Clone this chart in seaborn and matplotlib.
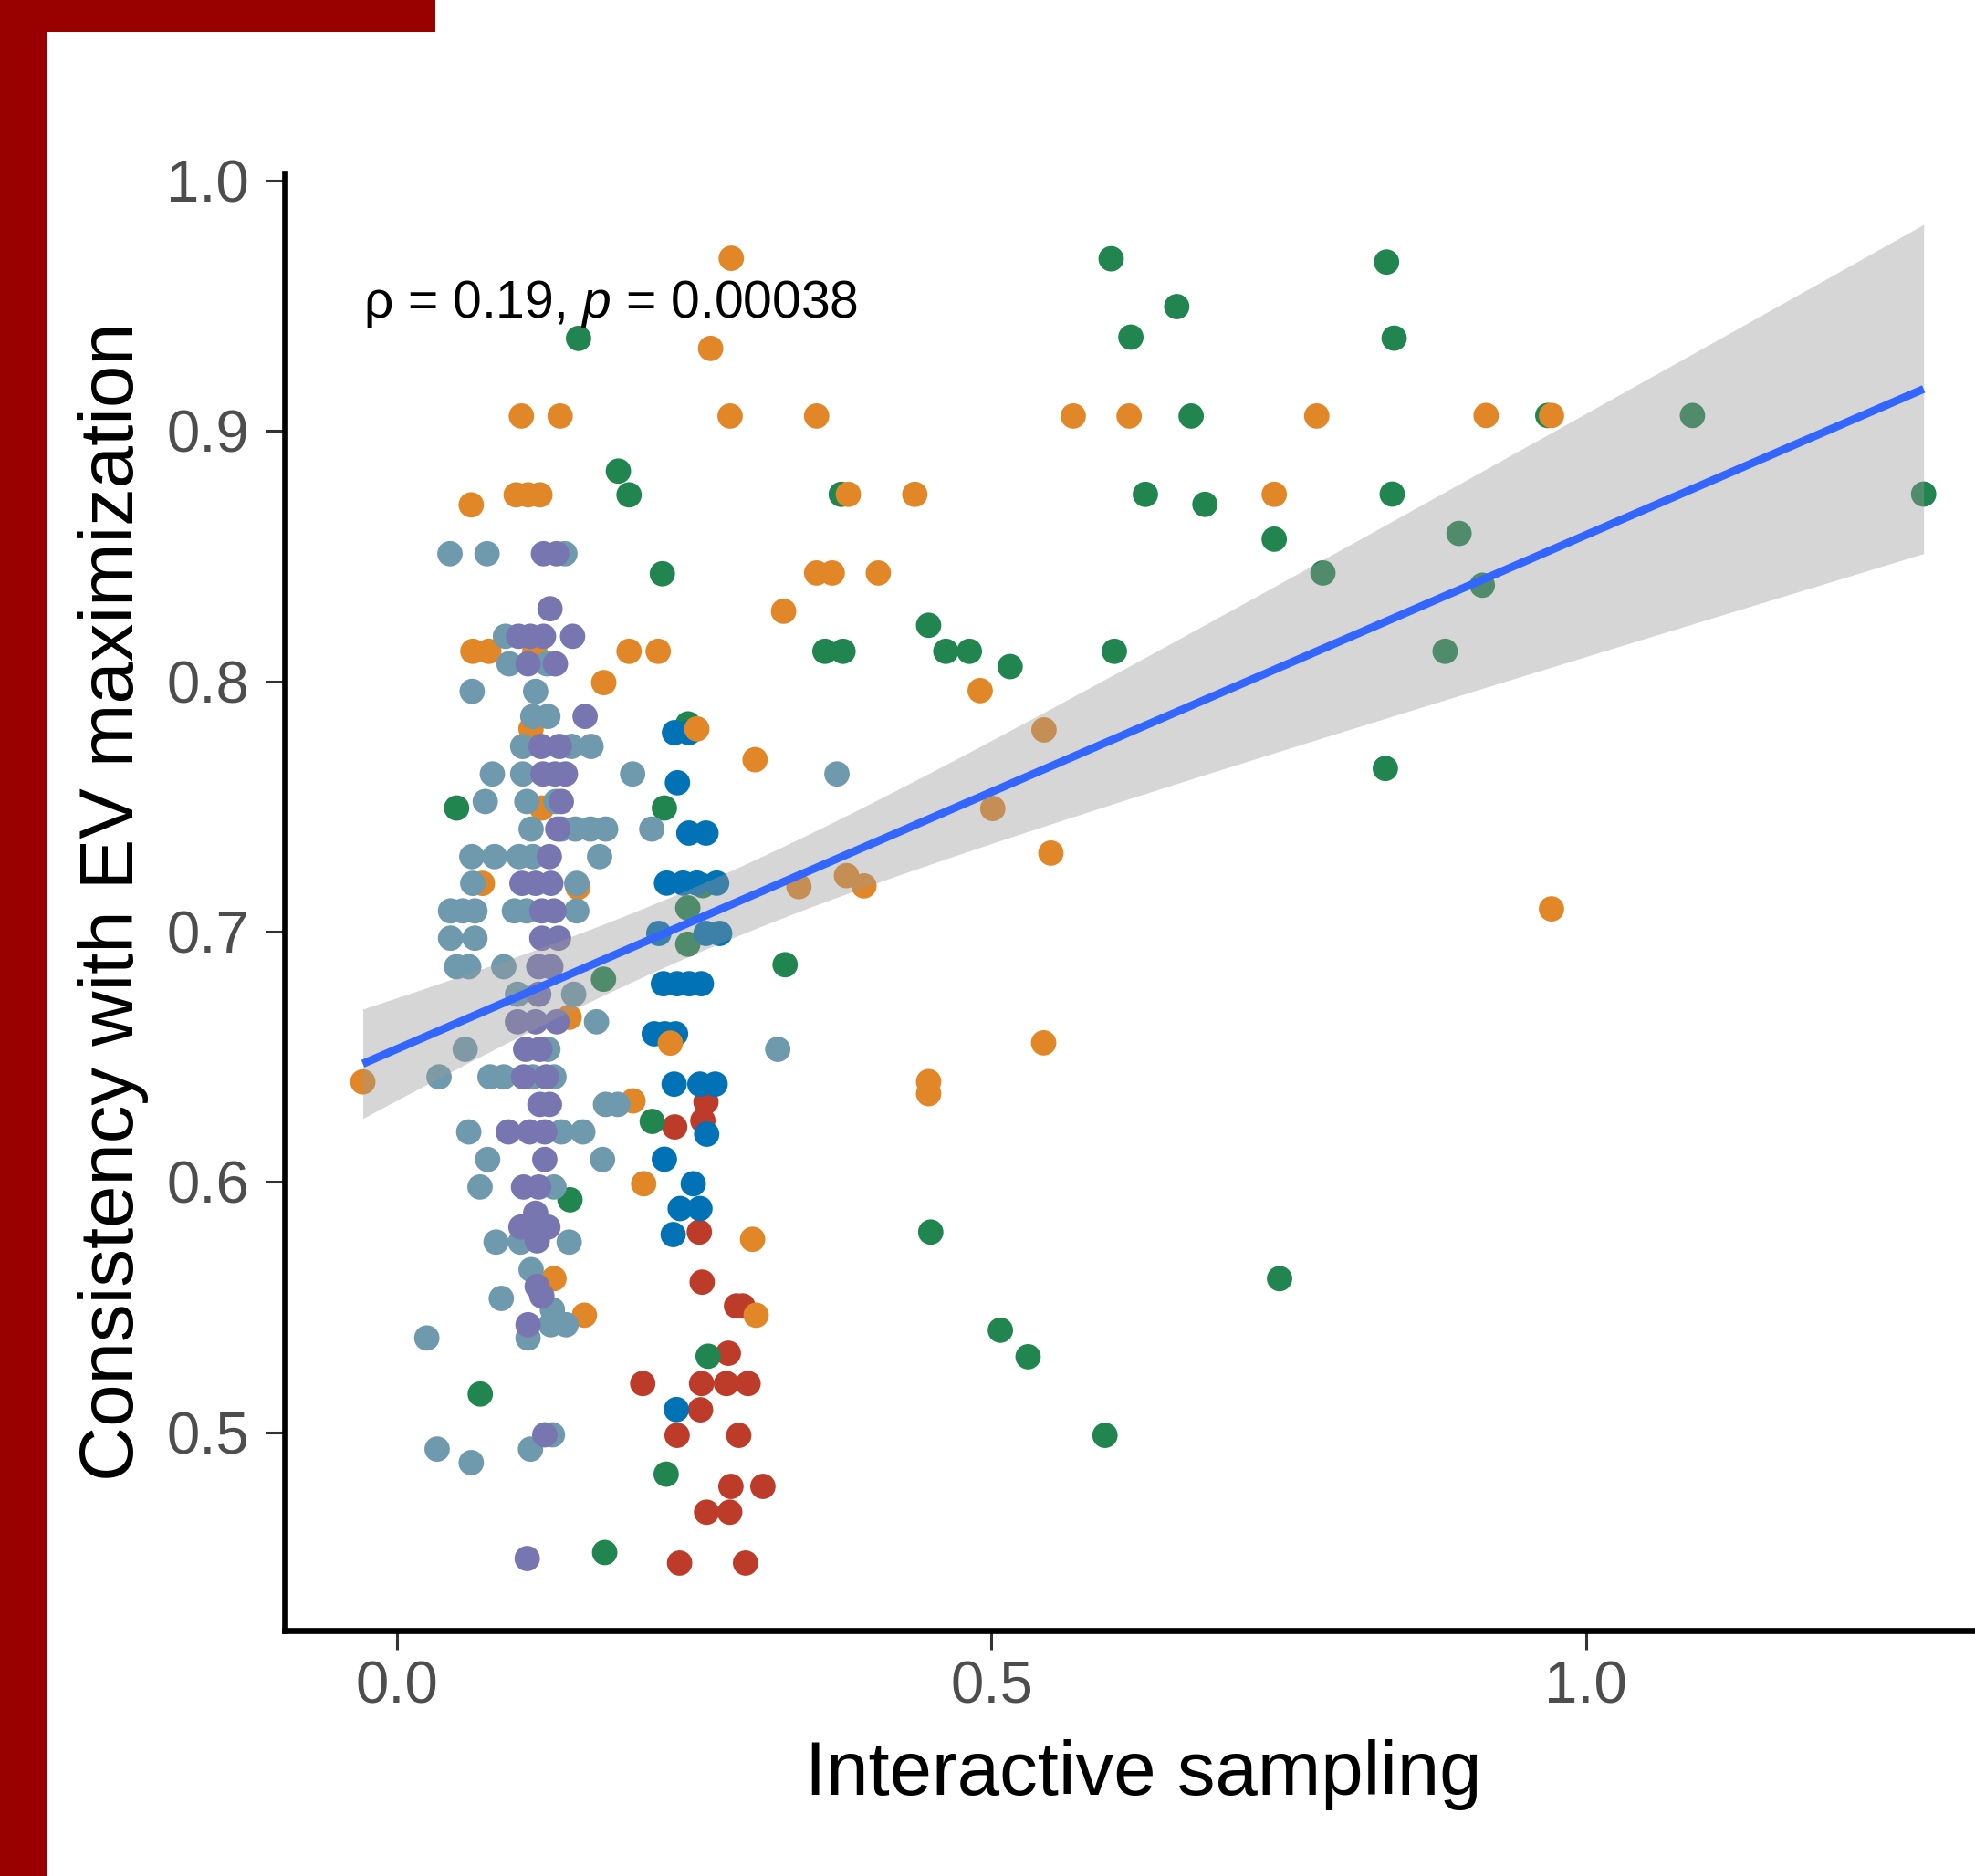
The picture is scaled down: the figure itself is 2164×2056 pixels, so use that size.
import numpy as np
import pandas as pd
import matplotlib
matplotlib.use("Agg")
import matplotlib.pyplot as plt
from matplotlib.patches import Rectangle
import seaborn as sns

# ---------------- data ----------------
red_x = [0.2597, 0.2571, 0.2334, 0.2541, 0.2565, 0.2854, 0.2906, 0.2785, 0.2065, 0.2560, 0.2769,
         0.2951, 0.2551, 0.2354, 0.2873, 0.2807, 0.3076, 0.2602, 0.2797, 0.2375, 0.2930]
red_y = [0.632, 0.6245, 0.622, 0.580, 0.560, 0.5505, 0.5505, 0.5316, 0.5195, 0.5195, 0.5195,
         0.5195, 0.509, 0.4988, 0.4988, 0.4784, 0.4784, 0.4681, 0.4681, 0.4478, 0.4478]

green_x = [0.1525, 0.186, 0.195, 0.223, 0.0499, 0.2247, 0.2446, 0.257, 0.2444, 0.2444, 0.1735,
           0.3263, 0.2145, 0.1453, 0.2615, 0.0698, 0.2262, 0.1745, 0.6006, 0.6558, 0.6172, 0.6679,
           0.3735, 0.6294, 0.6795, 0.7378, 0.7788, 0.447, 0.3598, 0.375, 0.4615, 0.4813, 0.5156,
           0.6033, 0.4488, 0.7423, 0.5074, 0.5307, 0.5954, 0.8323, 0.8387, 0.968, 1.0897, 0.8371,
           0.8933, 0.9129, 0.8816, 1.2842, 0.8313]
green_y = [0.937, 0.884, 0.8745, 0.843, 0.7494, 0.7494, 0.783, 0.7184, 0.7095, 0.695, 0.681,
           0.6868, 0.6242, 0.5929, 0.5304, 0.5153, 0.4833, 0.452, 0.9688, 0.9497, 0.9375, 0.906,
           0.8747, 0.8747, 0.8707, 0.8568, 0.8433, 0.8224, 0.812, 0.812, 0.812, 0.812, 0.8059,
           0.812, 0.58, 0.5614, 0.5408, 0.5302, 0.4988, 0.9675, 0.9371, 0.9062, 0.9062, 0.8748,
           0.8591, 0.8384, 0.812, 0.8748, 0.7652]

blue_x = [0.2332, 0.2453, 0.2357, 0.2453, 0.2597, 0.2265, 0.2405, 0.2520, 0.2687, 0.2200, 0.2597,
          0.2712, 0.2239, 0.2354, 0.2456, 0.2558, 0.2162, 0.2250, 0.2341, 0.2329, 0.2546, 0.2674,
          0.2603, 0.2247, 0.2490, 0.2380, 0.2546, 0.2321, 0.2348]
blue_y = [0.7795, 0.7795, 0.7595, 0.7394, 0.7394, 0.7194, 0.7194, 0.7194, 0.7194, 0.6993, 0.6993,
          0.6993, 0.6792, 0.6792, 0.6792, 0.6792, 0.6592, 0.6592, 0.6592, 0.6391, 0.6391, 0.6391,
          0.6191, 0.6091, 0.5993, 0.5894, 0.5894, 0.579, 0.5091]

orange_x = [0.281, 0.2636, 0.1044, 0.137, 0.280, 0.3528, 0.0622, 0.100, 0.110, 0.120,
            0.325, 0.0636, 0.077, 0.1157, 0.195, 0.2195, 0.1737, 0.1125, 0.252, 0.301,
            0.1216, 0.0716, 0.152, 0.3379, 0.3779, 0.3926, 0.1446, 0.2297, -0.029, 0.1983,
            0.2073, 0.2989, 0.1318, 0.3019, 0.1574, 0.5687, 0.6157, 0.7736, 0.3795, 0.4354,
            0.7378, 0.3528, 0.3659, 0.4047, 0.4904, 0.5441, 0.501, 0.5499, 0.5438, 0.447,
            0.447, 0.9161, 0.9711, 0.9711]
orange_y = [0.969, 0.933, 0.906, 0.906, 0.906, 0.906, 0.8705, 0.8745, 0.8745, 0.8745,
            0.828, 0.812, 0.812, 0.812, 0.812, 0.812, 0.7995, 0.781, 0.781, 0.7687,
            0.7494, 0.7193, 0.7177, 0.718, 0.7224, 0.7183, 0.6658, 0.6555, 0.640, 0.6324,
            0.5993, 0.5771, 0.5614, 0.5468, 0.5468, 0.906, 0.906, 0.906, 0.8747, 0.8747,
            0.8747, 0.8433, 0.8433, 0.8433, 0.7963, 0.7806, 0.7492, 0.7314, 0.6556, 0.6401,
            0.6353, 0.9062, 0.9062, 0.7091]

teal_x = [0.0443, 0.0755, 0.141, 0.091, 0.094, 0.126, 0.063, 0.1164, 0.114, 0.1267,
          0.1055, 0.1465, 0.163, 0.080, 0.1055, 0.198, 0.3699, 0.074, 0.109, 0.1335,
          0.1126, 0.138, 0.1497, 0.1625, 0.1753, 0.2141, 0.0627, 0.0819, 0.1024, 0.114,
          0.1702, 0.0635, 0.151, 0.0448, 0.055, 0.0653, 0.0985, 0.1088, 0.151, 0.0448,
          0.0653, 0.0499, 0.0601, 0.0896, 0.1011, 0.1484, 0.1676, 0.0571, 0.1267, 0.3201,
          0.0351, 0.078, 0.0896, 0.114, 0.1318, 0.1752, 0.1855, 0.0601, 0.138, 0.1561,
          0.076, 0.1727, 0.0696, 0.1318, 0.0831, 0.1036, 0.1446, 0.1126, 0.0875, 0.1305,
          0.1292, 0.142, 0.110, 0.0248, 0.1305, 0.1121, 0.0335, 0.0622]
teal_y = [0.851, 0.851, 0.851, 0.818, 0.807, 0.807, 0.796, 0.796, 0.786, 0.786,
          0.774, 0.774, 0.774, 0.763, 0.763, 0.763, 0.763, 0.752, 0.752, 0.752,
          0.741, 0.741, 0.741, 0.741, 0.741, 0.741, 0.730, 0.730, 0.730, 0.730,
          0.730, 0.7193, 0.7193, 0.7083, 0.7083, 0.7083, 0.7083, 0.7083, 0.7083, 0.6974,
          0.6974, 0.686, 0.686, 0.686, 0.675, 0.675, 0.664, 0.653, 0.653, 0.653,
          0.642, 0.642, 0.642, 0.642, 0.642, 0.631, 0.631, 0.620, 0.620, 0.620,
          0.609, 0.609, 0.598, 0.598, 0.576, 0.576, 0.576, 0.565, 0.5535, 0.549,
          0.543, 0.543, 0.5377, 0.5377, 0.499, 0.4933, 0.4933, 0.4879]

purple_x = [0.123, 0.134, 0.1285, 0.102, 0.112, 0.123, 0.1475, 0.11, 0.133, 0.158,
            0.1209, 0.1364, 0.1225, 0.1328, 0.1414, 0.138, 0.135, 0.1279, 0.1049, 0.1164,
            0.1292, 0.1216, 0.1318, 0.1216, 0.1356, 0.119, 0.1292, 0.119, 0.1011, 0.1164,
            0.1343, 0.108, 0.12, 0.1062, 0.1254, 0.120, 0.128, 0.0934, 0.1113, 0.1241,
            0.1241, 0.1062, 0.119, 0.1164, 0.104, 0.1164, 0.1267, 0.1177, 0.1177, 0.1216,
            0.110, 0.1241, 0.1093]
purple_y = [0.851, 0.851, 0.829, 0.818, 0.818, 0.818, 0.818, 0.807, 0.807, 0.786,
            0.774, 0.774, 0.763, 0.763, 0.763, 0.752, 0.741, 0.730, 0.7193, 0.7193,
            0.7193, 0.7083, 0.7083, 0.6974, 0.6974, 0.686, 0.686, 0.675, 0.664, 0.664,
            0.664, 0.653, 0.653, 0.642, 0.642, 0.631, 0.631, 0.620, 0.620, 0.620,
            0.609, 0.598, 0.598, 0.5875, 0.582, 0.582, 0.582, 0.5765, 0.5583, 0.5545,
            0.543, 0.499, 0.4496]

groups = ["G1", "G2", "G3", "G4", "G5", "G6"]      # drawing order
group_colors = ["#BC3C29", "#20854E", "#0072B5", "#E18727", "#6F99AD", "#7876B1"]

x_ticks = [0.0, 0.5, 1.0]
x_tick_labels = ["0.0", "0.5", "1.0"]
y_ticks = [0.5, 0.6, 0.7, 0.8, 0.9, 1.0]
y_tick_labels = ["0.5", "0.6", "0.7", "0.8", "0.9", "1.0"]

x_title = "Interactive sampling"
y_title = "Consistency with EV maximization"
stat_label = r"ρ = 0.19, $\mathit{p}$ = 0.00038"

# ---------------- build table ----------------
xs = [red_x, green_x, blue_x, orange_x, teal_x, purple_x]
ys = [red_y, green_y, blue_y, orange_y, teal_y, purple_y]
frames = [pd.DataFrame({"x": gx, "y": gy, "group": g}) for g, gx, gy in zip(groups, xs, ys)]
df = pd.concat(frames, ignore_index=True)

# ---------------- style ----------------
sns.set_theme(style="ticks")
plt.rcParams['font.family'] = ['Liberation Sans', 'DejaVu Sans']
plt.rcParams['mathtext.fontset'] = 'custom'
plt.rcParams['mathtext.rm'] = 'Liberation Sans'
plt.rcParams['mathtext.it'] = 'Liberation Sans:italic'

W, H = 2164, 2056
fig = plt.figure(figsize=(W / 100, H / 100), dpi=100)
fig.patch.set_facecolor("white")

# axes placement (pixel geometry of the panel)
left_px, right_px, top_px, bottom_px = 312, 2193.4, 189.8, 1786.5
ax = fig.add_axes([left_px / W, (H - bottom_px) / H, (right_px - left_px) / W, (bottom_px - top_px) / H])

# decorative red frame pieces
fig.patches.append(Rectangle((0, 0), 51 / W, 1, transform=fig.transFigure,
                             facecolor="#990000", edgecolor="none", zorder=10))
fig.patches.append(Rectangle((0, 1 - 34.5 / H), 477 / W, 34.5 / H, transform=fig.transFigure,
                             facecolor="#990000", edgecolor="none", zorder=10))

# points
sns.scatterplot(data=df, x="x", y="y", hue="group", hue_order=groups,
                palette=dict(zip(groups, group_colors)), s=400, linewidth=0,
                legend=False, ax=ax, zorder=2)

# linear fit with 95% confidence band (t-based, as in geom_smooth)
xv = df["x"].to_numpy()
yv = df["y"].to_numpy()
n = len(xv)
b1, b0 = np.polyfit(xv, yv, 1)
resid = yv - (b0 + b1 * xv)
s_err = np.sqrt(np.sum(resid ** 2) / (n - 2))
xm = xv.mean()
sxx = np.sum((xv - xm) ** 2)
grid = np.linspace(xv.min(), xv.max(), 100)
fit = b0 + b1 * grid
se = s_err * np.sqrt(1.0 / n + (grid - xm) ** 2 / sxx)
tval = 1.967
ax.fill_between(grid, fit - tval * se, fit + tval * se, color="#999999", alpha=0.4,
                linewidth=0, zorder=3)
sns.regplot(data=df, x="x", y="y", scatter=False, ci=None, truncate=True,
            line_kws=dict(color="#3366FF", lw=6.3, zorder=4, solid_capstyle="butt"), ax=ax)

# annotation
ax.text(xv.min(), 0.9452, stat_label, fontsize=41, ha="left", va="baseline", color="black", zorder=5)

# axes cosmetics
ax.set_xlim(-0.0947, 1.35)
ax.set_ylim(0.421, 1.003)
ax.set_xticks(x_ticks)
ax.set_xticklabels(x_tick_labels)
ax.set_yticks(y_ticks)
ax.set_yticklabels(y_tick_labels)
for side in ["top", "right"]:
    ax.spines[side].set_visible(False)
for side in ["left", "bottom"]:
    ax.spines[side].set_linewidth(4.8)
    ax.spines[side].set_color("black")
ax.tick_params(axis="both", length=15, width=2.2, color="#333333",
               labelsize=47, labelcolor="#4D4D4D")
ax.tick_params(axis="x", pad=9)
ax.tick_params(axis="y", pad=13)

ax.set_xlabel(x_title, fontsize=60, color="black")
ax.set_ylabel(y_title, fontsize=60, color="black")
ax.xaxis.set_label_coords(0.5, -0.075)
ax.yaxis.set_label_coords(-0.0792, 0.5)

fig.savefig("out.png", dpi=100, facecolor="white")
